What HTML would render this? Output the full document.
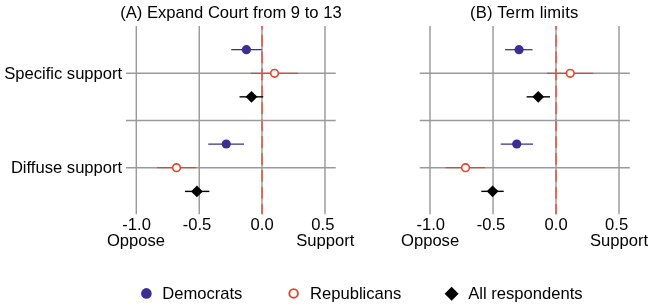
<!DOCTYPE html>
<html><head><meta charset="utf-8"><title>Support by party</title>
<style>
html,body{margin:0;padding:0;background:#fff;}
svg{display:block;}
text{font-family:"Liberation Sans",Arial,Helvetica,sans-serif;font-size:16.6px;fill:#000;}
</style></head>
<body>
<svg width="652" height="306" viewBox="0 0 652 306">
<rect width="652" height="306" fill="#fff"/>
<line x1="136.3" y1="26.1" x2="136.3" y2="214.15" stroke="#9a9a9a" stroke-width="1.45"/>
<line x1="199.25" y1="26.1" x2="199.25" y2="214.15" stroke="#9a9a9a" stroke-width="1.45"/>
<line x1="262.0" y1="26.1" x2="262.0" y2="214.15" stroke="#9a9a9a" stroke-width="1.45"/>
<line x1="325.0" y1="26.1" x2="325.0" y2="214.15" stroke="#9a9a9a" stroke-width="1.45"/>
<line x1="262.0" y1="26.1" x2="262.0" y2="214.15" stroke="#ee5038" stroke-width="1.5" stroke-dasharray="11.75 5.17" stroke-dashoffset="8.34"/>
<line x1="126.0" y1="73.3" x2="335.7" y2="73.3" stroke="#9a9a9a" stroke-width="1.45"/>
<line x1="126.0" y1="120.5" x2="335.7" y2="120.5" stroke="#9a9a9a" stroke-width="1.45"/>
<line x1="126.0" y1="167.65" x2="335.7" y2="167.65" stroke="#9a9a9a" stroke-width="1.45"/>
<line x1="231.2" y1="49.65" x2="261.8" y2="49.65" stroke="#3a2f92" stroke-width="1.25"/>
<circle cx="246.4" cy="49.65" r="4.6" fill="#3a2f92"/>
<line x1="250.75" y1="73.3" x2="298.0" y2="73.3" stroke="#eb4128" stroke-width="1.25"/>
<circle cx="274.5" cy="73.3" r="3.85" fill="#fff" stroke="#eb4128" stroke-width="1.6"/>
<line x1="239.5" y1="96.85" x2="263.25" y2="96.85" stroke="#000" stroke-width="1.4"/>
<path d="M245.62 96.85L251.5 90.90L257.38 96.85L251.5 102.80Z" fill="#000"/>
<line x1="208.25" y1="144.0" x2="244.0" y2="144.0" stroke="#3a2f92" stroke-width="1.25"/>
<circle cx="226.25" cy="144.0" r="4.6" fill="#3a2f92"/>
<line x1="157.0" y1="167.7" x2="196.0" y2="167.7" stroke="#eb4128" stroke-width="1.25"/>
<circle cx="176.5" cy="167.7" r="3.85" fill="#fff" stroke="#eb4128" stroke-width="1.6"/>
<line x1="185.0" y1="191.4" x2="209.35" y2="191.4" stroke="#000" stroke-width="1.4"/>
<path d="M191.02 191.4L196.9 185.45L202.78 191.4L196.9 197.35Z" fill="#000"/>
<line x1="430.0" y1="26.1" x2="430.0" y2="214.15" stroke="#9a9a9a" stroke-width="1.45"/>
<line x1="493.05" y1="26.1" x2="493.05" y2="214.15" stroke="#9a9a9a" stroke-width="1.45"/>
<line x1="556.0" y1="26.1" x2="556.0" y2="214.15" stroke="#9a9a9a" stroke-width="1.45"/>
<line x1="619.0" y1="26.1" x2="619.0" y2="214.15" stroke="#9a9a9a" stroke-width="1.45"/>
<line x1="556.0" y1="26.1" x2="556.0" y2="214.15" stroke="#ee5038" stroke-width="1.5" stroke-dasharray="11.75 5.17" stroke-dashoffset="8.34"/>
<line x1="419.7" y1="73.3" x2="629.85" y2="73.3" stroke="#9a9a9a" stroke-width="1.45"/>
<line x1="419.7" y1="120.5" x2="629.85" y2="120.5" stroke="#9a9a9a" stroke-width="1.45"/>
<line x1="419.7" y1="167.65" x2="629.85" y2="167.65" stroke="#9a9a9a" stroke-width="1.45"/>
<line x1="505.0" y1="49.7" x2="532.5" y2="49.7" stroke="#3a2f92" stroke-width="1.25"/>
<circle cx="519.05" cy="49.7" r="4.6" fill="#3a2f92"/>
<line x1="547.0" y1="73.3" x2="593.25" y2="73.3" stroke="#eb4128" stroke-width="1.25"/>
<circle cx="570.25" cy="73.3" r="3.85" fill="#fff" stroke="#eb4128" stroke-width="1.6"/>
<line x1="526.6" y1="96.85" x2="550.0" y2="96.85" stroke="#000" stroke-width="1.4"/>
<path d="M532.37 96.85L538.25 90.90L544.13 96.85L538.25 102.80Z" fill="#000"/>
<line x1="500.75" y1="144.0" x2="533.0" y2="144.0" stroke="#3a2f92" stroke-width="1.25"/>
<circle cx="516.75" cy="144.0" r="4.6" fill="#3a2f92"/>
<line x1="445.75" y1="167.7" x2="485.0" y2="167.7" stroke="#eb4128" stroke-width="1.25"/>
<circle cx="465.5" cy="167.7" r="3.85" fill="#fff" stroke="#eb4128" stroke-width="1.6"/>
<line x1="481.25" y1="191.35" x2="503.75" y2="191.35" stroke="#000" stroke-width="1.4"/>
<path d="M486.72 191.35L492.6 185.40L498.48 191.35L492.6 197.30Z" fill="#000"/>
<text x="230.95" y="18" text-anchor="middle" font-size="16.75">(A) Expand Court from 9 to 13</text>
<text x="524.3" y="18" text-anchor="middle" font-size="16.75" letter-spacing="0.18">(B) Term limits</text>
<text x="122.2" y="78.6" text-anchor="end" font-size="16.8">Specific support</text>
<text x="122.2" y="173.2" text-anchor="end" font-size="16.8">Diffuse support</text>
<text x="136.6" y="229.6" text-anchor="middle">-1.0</text>
<text x="197.0" y="229.6" text-anchor="middle">-0.5</text>
<text x="262.1" y="229.6" text-anchor="middle">0.0</text>
<text x="322.9" y="229.6" text-anchor="middle">0.5</text>
<text x="136.0" y="246.0" text-anchor="middle" font-size="16.75">Oppose</text>
<text x="325.3" y="246.0" text-anchor="middle" font-size="16.75">Support</text>
<text x="430.7" y="229.6" text-anchor="middle">-1.0</text>
<text x="491.0" y="229.6" text-anchor="middle">-0.5</text>
<text x="556.1" y="229.6" text-anchor="middle">0.0</text>
<text x="616.6" y="229.6" text-anchor="middle">0.5</text>
<text x="430.1" y="246.0" text-anchor="middle" font-size="16.75">Oppose</text>
<text x="619.1" y="246.0" text-anchor="middle" font-size="16.75">Support</text>
<text x="162.2" y="299" text-anchor="start">Democrats</text>
<text x="310.0" y="299" text-anchor="start">Republicans</text>
<text x="468.2" y="299" text-anchor="start" font-size="16.5">All respondents</text>
<circle cx="146.4" cy="293.4" r="5.3" fill="#3a2f92"/>
<circle cx="293.6" cy="293.4" r="4.3" fill="#fff" stroke="#eb4128" stroke-width="1.9"/>
<path d="M444.65 293.65L451.65 286.65L458.65 293.65L451.65 300.65Z" fill="#000"/>
</svg>
</body></html>
